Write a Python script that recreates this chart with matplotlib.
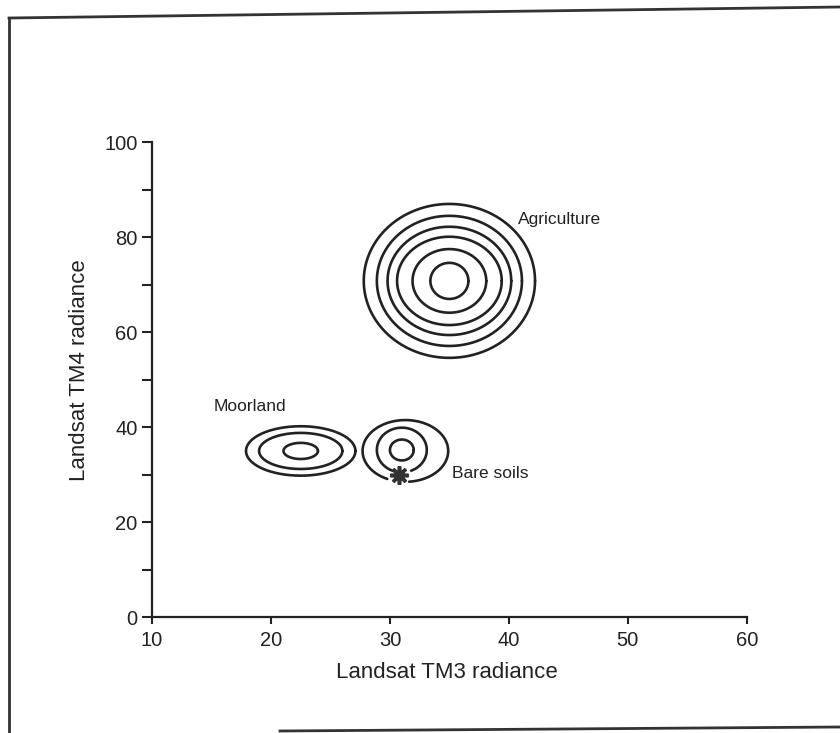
import numpy as np
import matplotlib
matplotlib.use("Agg")
import matplotlib.pyplot as plt
from matplotlib.lines import Line2D

# Axis ranges and ticks
x_range = [10, 60]
y_range = [0, 100]
x_ticks = [10, 20, 30, 40, 50, 60]
y_ticks = [0, 20, 40, 60, 80, 100]
y_minor = [10, 30, 50, 70, 90]

# Class density contours: centre and semi-axes (in radiance units)
agri_center = (35.0, 70.8)
agri_ax = [7.2, 6.1, 5.2, 4.4, 3.1, 1.6]
agri_ay = [16.2, 13.7, 11.4, 9.3, 6.7, 3.8]

moor_center = (22.5, 35.0)
moor_ax = [4.6, 3.5, 1.45]
moor_ay = [5.2, 3.8, 1.7]

bare_center = [(31.0, 35.2), (31.0, 35.2), (31.3, 35.0)]
bare_ax = [1.0, 2.1, 3.6]
bare_ay = [2.2, 4.7, 6.5]
bare_start = [0, 292, 275]      # degrees
bare_end = [360, 612, 605]      # degrees
bare_point = (30.75, 30.0)

labels = ["Agriculture", "Moorland", "Bare soils"]
label_pos = [(40.8, 83.8), (15.2, 44.4), (35.2, 30.2)]

INK = "#222222"
LW = 1.9

plt.rcParams["font.family"] = ["Liberation Sans", "DejaVu Sans"]

fig = plt.figure(figsize=(8.4, 7.33), dpi=100)
ax = fig.add_axes([0.181, 0.158, 0.708, 0.648])


def ring(cx, cy, a, b, t0=0.0, t1=360.0):
    t = np.radians(np.linspace(t0, t1, 400))
    ax.plot(cx + a * np.cos(t), cy + b * np.sin(t), color=INK, lw=LW,
            solid_capstyle="round")


for a, b in zip(agri_ax, agri_ay):
    ring(agri_center[0], agri_center[1], a, b)
for a, b in zip(moor_ax, moor_ay):
    ring(moor_center[0], moor_center[1], a, b)
for c, a, b, t0, t1 in zip(bare_center, bare_ax, bare_ay, bare_start, bare_end):
    ring(c[0], c[1], a, b, t0, t1)

ax.plot([bare_point[0]], [bare_point[1]], marker=(8, 2, 0), ms=13,
        mew=2.6, color="#333333", ls="none")
ax.plot([bare_point[0]], [bare_point[1]], marker="o", ms=6,
        color="#333333", ls="none")

for txt, (lx, ly) in zip(labels, label_pos):
    ax.text(lx, ly, txt, fontsize=12.5, va="center", ha="left", color=INK)

ax.set_xlim(*x_range)
ax.set_ylim(*y_range)
ax.set_xticks(x_ticks)
ax.set_yticks(y_ticks)
ax.set_yticks(y_minor, minor=True)
ax.set_xticklabels([str(v) for v in x_ticks], fontsize=14.5)
ax.set_yticklabels([str(v) for v in y_ticks], fontsize=14.5)
ax.tick_params(axis="y", which="both", direction="out", length=7.5,
               width=1.5, color=INK, pad=3, labelcolor=INK)
ax.tick_params(axis="x", which="both", direction="out", length=5,
               width=1.5, color=INK, pad=5, labelcolor=INK)

for side in ("top", "right"):
    ax.spines[side].set_visible(False)
for side in ("left", "bottom"):
    ax.spines[side].set_linewidth(1.6)
    ax.spines[side].set_color(INK)

ax.set_xlabel("Landsat TM3 radiance", fontsize=16, color=INK)
ax.set_ylabel("Landsat TM4 radiance", fontsize=16, color=INK)
ax.xaxis.set_label_coords(0.495, -0.095)
ax.yaxis.set_label_coords(-0.104, 0.52)

# Page frame around the figure
W, H = 840.0, 733.0
frame = [
    ([9 / W, 9 / W], [1 - 18 / H, 0.0]),
    ([9 / W, 1.0], [1 - 18 / H, 1 - 7 / H]),
    ([280 / W, 1.0], [1 - 731 / H, 1 - 727 / H]),
]
for xs, ys in frame:
    fig.add_artist(Line2D(xs, ys, transform=fig.transFigure, color="#333333",
                          lw=2.0))

fig.savefig("out.png", dpi=100, facecolor="white")
